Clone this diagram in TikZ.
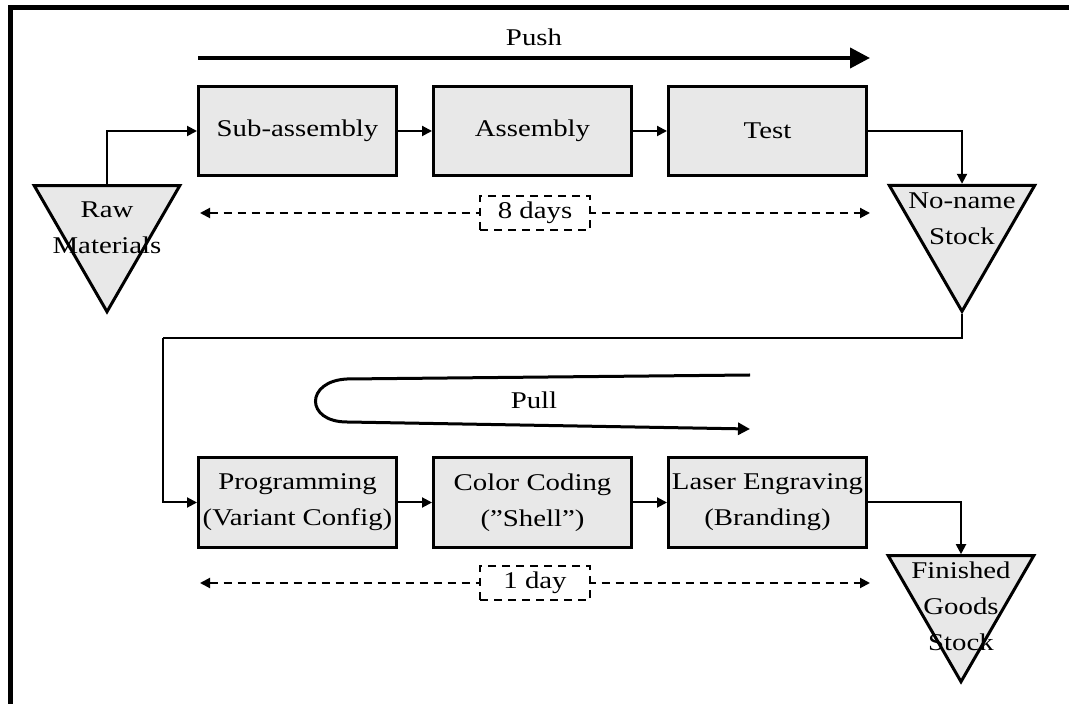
\documentclass[tikz,border=0pt]{standalone}
\usepackage{fontspec}
\setmainfont{Liberation Serif}[FakeStretch=1.2]
\usepackage{tikz}
\usetikzlibrary{positioning,arrows.meta,shapes.geometric}
\definecolor{boxgray}{RGB}{232,232,232}

\begin{document}
\begin{tikzpicture}[x=0.5pt, y=-0.5pt, >={Triangle[length=5pt,width=5pt]}, node distance=17pt, font=\fontsize{12}{18}\selectfont,
  proc/.style = {rectangle, draw, line width=1.5pt, fill=boxgray, minimum width=99pt, minimum height=44.5pt, inner sep=1pt, align=center},
  stock/.style = {regular polygon, regular polygon sides=3, shape border rotate=180, draw, line width=1.5pt, fill=boxgray, minimum size=84pt, inner sep=0pt},
  every edge/.append style={->, line width=1pt},
  vh/.style={to path={|- (\tikztotarget)}},
  hv/.style={to path={-| (\tikztotarget)}},
  span/.style={<->, line width=1pt, dash pattern=on 4pt off 3pt},
  daybox/.style={draw, line width=1pt, dash pattern=on 4pt off 3pt, fill=white, minimum width=55pt, minimum height=17pt, inner sep=0pt},
  push/.style={-{Triangle[length=10pt,width=10pt]}, line width=2pt},
  pull/.style={-{Triangle[length=6pt,width=6pt]}, line width=1.5pt},
  frame/.style={-, line width=2.5pt}]

\useasboundingbox (0,0) rectangle (1069,704);
\draw[frame] (1069,7.5) -| (10.5,704);

% push line
\node[proc] (sub) at (297.5,131) {Sub-assembly};
\node[proc] (asm) [right=of sub] {Assembly};
\node[proc] (test) [right=of asm] {Test};
\node[stock, label={[align=center]center:Raw\\Materials}] (raw) at (107,227.7) {};
\node[stock, label={[align=center, yshift=4.5pt]center:No-name\\Stock}] (noname) at (962,227.3) {};

\coordinate (pushl) at (198,58);
\coordinate (pushr) at (870,58);
\draw[push] (pushl) -- node[above=2pt] (pushlbl) {Push} (pushr);

\coordinate (d1l) at (200,213);
\coordinate (d1r) at (870,213);
\draw[span] (d1l) -- node[daybox] (days8) {8 days} (d1r);

% pull line
\node[proc] (prog) at (297.5,502.5) {Programming\\(Variant Config)};
\node[proc] (color) [right=of prog] {Color Coding\\(”Shell”)};
\node[proc] (laser) [right=of color] {Laser Engraving\\(Branding)};
\node[stock, label={[align=center, yshift=-4.5pt]center:Finished\\Goods\\Stock}] (fin) at (961,597.7) {};

\coordinate (pullr) at (750,375);
\coordinate (pullend) at (750,429);
\draw[pull] (pullr) -- (347,379) .. controls (305,381) and (305,422) .. (347,422) -- (pullend);
\node (pulllbl) at (534,400) {Pull};

\coordinate (d2l) at (200,583);
\coordinate (d2r) at (870,583);
\draw[span] (d2l) -- node[daybox] (day1) {1 day} (d2r);

\coordinate (turn) at (163,338);

\path
    (raw.north) edge[vh] (sub.west)
    (sub) edge (asm)
    (asm) edge (test)
    (test.east) edge[hv] (noname.north)
    (noname.south) edge[vh, -] (turn)
    (turn) edge[vh] (prog.west)
    (prog) edge (color)
    (color) edge (laser)
    (laser.east) edge[hv] (fin.north);
\end{tikzpicture}
\end{document}
